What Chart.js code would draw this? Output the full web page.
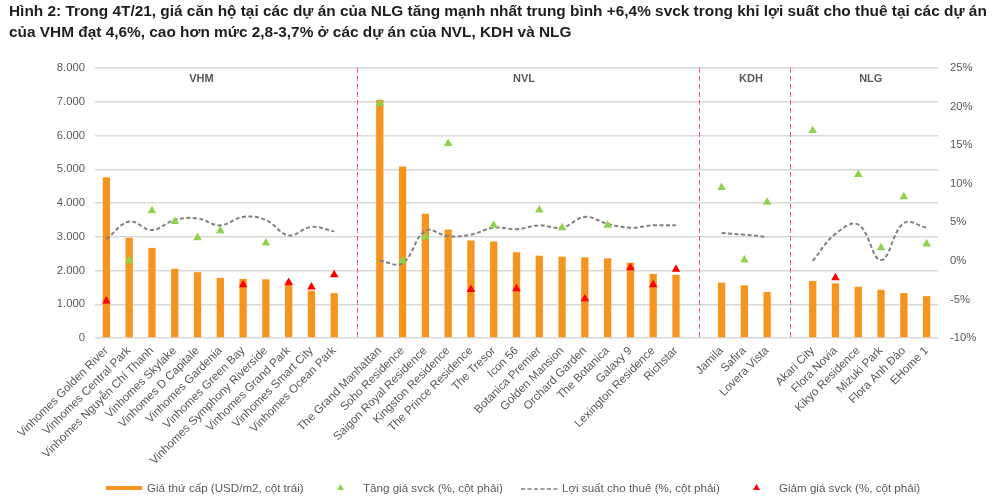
<!DOCTYPE html>
<html>
<head>
<meta charset="utf-8">
<script src="https://cdn.jsdelivr.net/npm/chart.js@4.4.0/dist/chart.umd.min.js"></script>
<style>
  html, body { margin: 0; padding: 0; background: #ffffff; }
  #wrap { position: relative; width: 1002px; height: 504px; overflow: hidden; font-family: "Liberation Sans", Arial, sans-serif; }
  #chartBox { position: absolute; left: 0; top: 0; width: 1002px; height: 504px; }
  #title { position: absolute; left: 9px; top: 0px; font-weight: bold; font-size: 15.4px; line-height: 21px; color: #1e1e1e; white-space: nowrap; }
  .lg { position: absolute; top: 480px; font-size: 11.6px; color: #595959; white-space: nowrap; line-height: 16px; }
</style>
</head>
<body>
<div id="wrap">
  <div id="chartBox"><canvas id="c" width="1002" height="504"></canvas></div>
  <div id="title">Hình 2: Trong 4T/21, giá căn hộ tại các dự án của NLG tăng mạnh nhất trung bình +6,4% svck trong khi lợi suất cho thuê tại các dự án<br>của VHM đạt 4,6%, cao hơn mức 2,8-3,7% ở các dự án của NVL, KDH và NLG</div>
  <div id="legend"></div>
</div>
<script>
// ---- data ----
const categories = [
  'Vinhomes Golden River','Vinhomes Central Park','Vinhomes Nguyễn Chí Thanh','Vinhomes Skylake','Vinhomes D Capitale','Vinhomes Gardenia','Vinhomes Green Bay','Vinhomes Symphony Riverside','Vinhomes Grand Park','Vinhomes Smart City','Vinhomes Ocean Park',
  '',
  'The Grand Manhattan','Soho Residence','Saigon Royal Residence','Kingston Residence','The Prince Residence','The Tresor','Icon 56','Botanica Premier','Golden Mansion','Orchard Garden','The Botanica','Galaxy 9','Lexington Residence','Richstar',
  '',
  'Jamila','Safira','Lovera Vista',
  '',
  'Akari City','Flora Novia','Kikyo Residence','Mizuki Park','Flora Anh Đào','EHome 1'
];
const secondaryPrice = [4760,2970,2670,2050,1950,1780,1750,1740,1580,1400,1330, null,
  7050,5080,3680,3210,2890,2860,2540,2440,2410,2390,2360,2230,1900,1870, null,
  1640,1560,1360, null,
  1690,1620,1520,1430,1330,1240];
const priceIncrease = [null,0.0,6.5,5.1,3.0,3.9,null,2.3,null,null,null, null,
  20.4,0.0,3.1,15.2,null,4.6,null,6.6,4.3,null,4.6,null,null,null, null,
  9.5,0.1,7.6, null,
  16.9,null,11.2,1.7,8.3,2.2];
const rentalYield = [2.8,5.1,4.0,5.3,5.5,4.6,5.7,5.3,3.3,4.4,3.8, null,
  0.0,-0.3,3.9,3.2,3.4,4.3,4.1,4.6,4.3,5.7,4.8,4.3,4.6,4.6, null,
  3.6,3.4,3.1, null,
  0.0,3.5,4.7,0.1,4.9,4.3];
const priceDecrease = [-5.2,null,null,null,null,null,-3.1,null,-2.8,-3.4,-1.8, null,
  null,null,null,null,-3.7,null,-3.6,null,null,-4.9,null,-0.9,-3.1,-1.1, null,
  null,null,null, null,
  null,-2.2,null,null,null,null];
const groupNames = ['VHM','NVL','KDH','NLG'];
const groupLabelAt = [4.17, 18.33, 28.29, 33.55];
const separatorAt = [11, 26, 30];
const leftTicks = [0,1000,2000,3000,4000,5000,6000,7000,8000];
const rightTicks = [-10,-5,0,5,10,15,20,25];
const legendLabels = ['Giá thứ cấp (USD/m2, cột trái)','Tăng giá svck (%, cột phải)','Lợi suất cho thuê (%, cột phải)','Giảm giá svck (%, cột phải)'];

const ORANGE = '#F7941D', GREEN = '#92D050', RED = '#FF0000', GREY = '#808080';
const TXT = '#595959';
const FONT = '"Liberation Sans", Arial, sans-serif';

// ---- plugin: separators + group labels ----
const decor = {
  id: 'decor',
  beforeDatasetsDraw(chart) {
    const {ctx, chartArea, scales} = chart;
    ctx.save();
    ctx.strokeStyle = '#FF5A5A';
    ctx.lineWidth = 1;
    ctx.setLineDash([5, 3]);
    separatorAt.forEach(i => {
      const x = Math.round(scales.x.getPixelForValue(i)) + 0.5;
      ctx.beginPath();
      ctx.moveTo(x, chartArea.top);
      ctx.lineTo(x, chartArea.bottom);
      ctx.stroke();
    });
    ctx.setLineDash([]);
    ctx.fillStyle = TXT;
    ctx.font = 'bold 11px ' + FONT;
    ctx.textAlign = 'center';
    ctx.textBaseline = 'middle';
    groupNames.forEach((g, k) => {
      ctx.fillText(g, scales.x.getPixelForValue(groupLabelAt[k]), chartArea.top + 11);
    });
    ctx.restore();
  }
};

new Chart(document.getElementById('c'), {
  type: 'bar',
  data: {
    labels: categories,
    datasets: [
      { type: 'line', label: legendLabels[3], data: priceDecrease, yAxisID: 'y1', showLine: false,
        pointStyle: 'triangle', pointRadius: 5, pointBackgroundColor: RED, pointBorderColor: RED, pointBorderWidth: 0, order: 1 },
      { type: 'line', label: legendLabels[1], data: priceIncrease, yAxisID: 'y1', showLine: false,
        pointStyle: 'triangle', pointRadius: 5, pointBackgroundColor: GREEN, pointBorderColor: GREEN, pointBorderWidth: 0, order: 2 },
      { type: 'line', label: legendLabels[2], data: rentalYield, yAxisID: 'y1', borderColor: GREY, borderWidth: 2,
        borderDash: [4, 2.5], pointRadius: 0, tension: 0.4, spanGaps: false, fill: false, order: 3 },
      { type: 'bar', label: legendLabels[0], data: secondaryPrice, yAxisID: 'y', backgroundColor: ORANGE,
        barPercentage: 0.8, categoryPercentage: 0.4, order: 4 }
    ]
  },
  options: {
    responsive: false,
    animation: false,
    events: [],
    layout: { padding: { top: 68, left: 0, right: 0, bottom: 0 } },
    plugins: { legend: { display: false }, tooltip: { enabled: false } },
    scales: {
      x: {
        offset: true,
        grid: { display: false, drawTicks: false },
        border: { display: false },
        ticks: { autoSkip: false, minRotation: 45, maxRotation: 45, padding: 6, color: TXT, font: { family: FONT, size: 11.6 } },
        afterFit(s) { s.height = 166; }
      },
      y: {
        position: 'left', min: 0, max: 8000,
        afterBuildTicks(s) { s.ticks = leftTicks.map(v => ({ value: v })); },
        grid: { color: '#D9D9D9', lineWidth: 1.5, drawTicks: false },
        border: { display: false },
        ticks: { padding: 10, color: TXT, font: { family: FONT, size: 11.3 },
          callback: v => v === 0 ? '0' : (v / 1000).toFixed(3) },
        afterFit(s) { s.width = 95; }
      },
      y1: {
        position: 'right', min: -10, max: 25,
        afterBuildTicks(s) { s.ticks = rightTicks.map(v => ({ value: v })); },
        grid: { display: false, drawTicks: false },
        border: { display: false },
        ticks: { padding: 12, color: TXT, font: { family: FONT, size: 11.3 }, callback: v => v + '%' },
        afterFit(s) { s.width = 64; }
      }
    }
  },
  plugins: [decor]
});

// ---- HTML legend ----
(function () {
  const lg = document.getElementById('legend');
  const items = [
    { x: 106, textX: 147, svg: '<svg width="36" height="6"><rect x="0" y="1" width="36" height="4" fill="' + ORANGE + '"/></svg>', sy: 485 },
    { x: 337, textX: 363, svg: '<svg width="7" height="6"><polygon points="3.5,0 7,6 0,6" fill="' + GREEN + '"/></svg>', sy: 484 },
    { x: 521, textX: 562, svg: '<svg width="38" height="4"><line x1="0" y1="2" x2="38" y2="2" stroke="' + GREY + '" stroke-width="1.5" stroke-dasharray="4,2.5"/></svg>', sy: 486 },
    { x: 753, textX: 779, svg: '<svg width="7" height="6"><polygon points="3.5,0 7,6 0,6" fill="' + RED + '"/></svg>', sy: 484 }
  ];
  items.forEach((it, i) => {
    const m = document.createElement('div');
    m.style.cssText = 'position:absolute;left:' + it.x + 'px;top:' + it.sy + 'px;line-height:0;';
    m.innerHTML = it.svg;
    lg.appendChild(m);
    const t = document.createElement('div');
    t.className = 'lg';
    t.style.left = it.textX + 'px';
    t.textContent = legendLabels[i];
    lg.appendChild(t);
  });
})();
</script>
</body>
</html>
